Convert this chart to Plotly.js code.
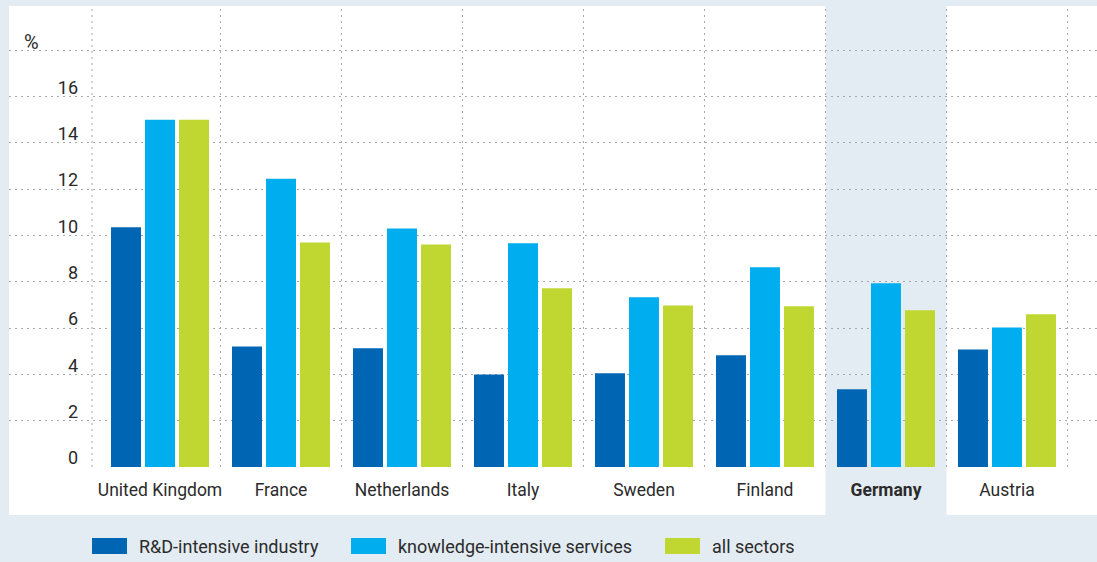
<!DOCTYPE html>
<html>
<head>
<meta charset="utf-8">
<script src="https://cdn.plot.ly/plotly-3.0.1.min.js"></script>
<style>html,body{margin:0;padding:0;background:#e3ecf2;}#chart{width:1097px;height:562px;}</style>
</head>
<body>
<div id="chart"></div>
<script>
// ---- data ----
const countries = ["United Kingdom", "France", "Netherlands", "Italy", "Sweden", "Finland", "Germany", "Austria"];
const rdIntensive = [10.35, 5.2, 5.13, 4.0, 4.05, 4.83, 3.36, 5.08];
const knowledgeIntensive = [15.0, 12.45, 10.3, 9.66, 7.33, 8.63, 7.94, 6.03];
const allSectors = [15.0, 9.7, 9.61, 7.72, 6.98, 6.94, 6.77, 6.6];
const seriesNames = ["R&D-intensive industry", "knowledge-intensive services", "all sectors"];
const seriesColors = ["#0066b3", "#00aeef", "#bfd730"];
const yTicks = [0, 2, 4, 6, 8, 10, 12, 14, 16, 18];
const yTickText = ["0", "2", "4", "6", "8", "10", "12", "14", "16", ""];
const highlight = "Germany";

// ---- layout geometry ----
const W = 1097, H = 562;
const M = {l: 9, r: 0, t: 6, b: 95};
const plotW = W - M.l - M.r, plotH = H - M.t - M.b;
const xRange = [-1.248, 7.744];
const yRange = [0, 19.91];
const px2x = px => (px - M.l) / plotW;           // pixel -> paper x
const py2y = py => (H - M.b - py) / plotH;         // pixel -> paper y
const d2x = v => (v - xRange[0]) / (xRange[1] - xRange[0]); // data x -> paper x
const font = "Roboto, 'DejaVu Sans', sans-serif";
const textColor = "#2b2b2b";
const gridColor = "#a8a8a8";

const xs = countries.map((c, i) => i);
const seriesData = [rdIntensive, knowledgeIntensive, allSectors];
const traces = seriesData.map((vals, k) => ({
  type: "bar", x: xs, y: vals, name: seriesNames[k],
  marker: {color: seriesColors[k], line: {width: 0}},
  hoverinfo: "name+y", showlegend: false
}));

const shapes = [];
// white panel
shapes.push({type: "rect", xref: "paper", yref: "paper", x0: 0, x1: 1, y0: py2y(515), y1: 1,
  fillcolor: "#ffffff", line: {width: 0}, layer: "below"});
// highlighted column
const hi = countries.indexOf(highlight);
shapes.push({type: "rect", xref: "paper", yref: "paper", x0: d2x(hi - 0.5), x1: d2x(hi + 0.5), y0: py2y(515), y1: 1,
  fillcolor: "#e3ecf2", line: {width: 0}, layer: "below"});
// vertical grid lines (category boundaries)
const vlines = [-0.562].concat(countries.map((c, i) => i + 0.5));
vlines.forEach(v => shapes.push({type: "line", xref: "x", yref: "paper", x0: v, x1: v, y0: 0, y1: 1,
  line: {color: gridColor, width: 1, dash: "2px,4px"}, layer: "below"}));

const annotations = [{
  xref: "paper", yref: "y", x: px2x(22), y: 18, yshift: 8, xanchor: "left", yanchor: "middle",
  text: "%", showarrow: false, font: {family: font, size: 20, color: textColor}
}];
// custom legend
const legendSwatchX = [92, 351, 665];
seriesNames.forEach((n, k) => {
  const sx = legendSwatchX[k];
  shapes.push({type: "rect", xref: "paper", yref: "paper", x0: px2x(sx), x1: px2x(sx + 35),
    y0: py2y(554), y1: py2y(538), fillcolor: seriesColors[k], line: {width: 0}, layer: "above"});
  annotations.push({xref: "paper", yref: "paper", x: px2x(sx + 45), y: py2y(546), xanchor: "left", yanchor: "middle",
    text: n, showarrow: false, font: {family: font, size: 18, color: textColor}});
});

const layout = {
  width: W, height: H, margin: M,
  paper_bgcolor: "#e3ecf2", plot_bgcolor: "rgba(0,0,0,0)",
  font: {family: font, color: textColor},
  barmode: "group", bargap: 0.157, bargroupgap: 0.118,
  showlegend: false,
  xaxis: {range: xRange, tickmode: "array", tickvals: xs,
    ticktext: countries.map(c => c === highlight ? "<b>" + c + "</b>" : c),
    showgrid: false, zeroline: false, showline: false, ticks: "",
    tickfont: {family: font, size: 17.5, color: textColor}, ticklabelstandoff: 10, fixedrange: true},
  yaxis: {range: yRange, tickmode: "array", tickvals: yTicks, ticktext: yTickText,
    anchor: "free", position: px2x(78), side: "left",
    showgrid: true, gridcolor: gridColor, griddash: "2px,4px", gridwidth: 1,
    zeroline: false, showline: false, ticks: "", ticklabelshift: -9,
    tickfont: {family: font, size: 18, color: textColor}, fixedrange: true},
  shapes: shapes, annotations: annotations
};

Plotly.newPlot("chart", traces, layout, {displayModeBar: false, staticPlot: true});
</script>
</body>
</html>
